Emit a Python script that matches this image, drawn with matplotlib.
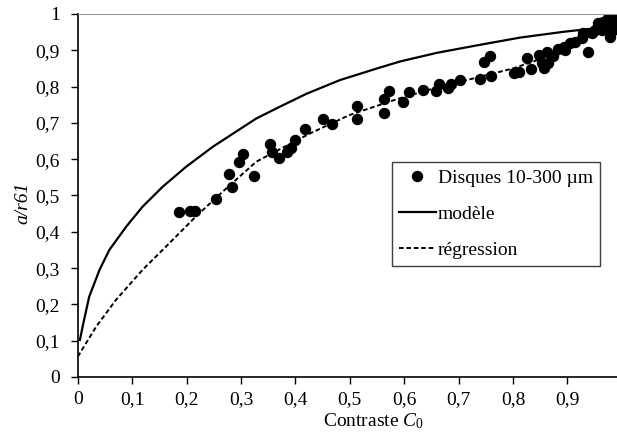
import matplotlib
matplotlib.use("Agg")
import matplotlib.pyplot as plt
from matplotlib.ticker import FuncFormatter

plt.rcParams["font.family"] = ["Liberation Serif", "DejaVu Serif"]
plt.rcParams["mathtext.fontset"] = "custom"
plt.rcParams["mathtext.rm"] = "Liberation Serif"
plt.rcParams["mathtext.it"] = "Liberation Serif:italic"

# Measured points (Disques 10-300 um)
disk_x = [0.186, 0.206, 0.216, 0.254, 0.278, 0.284, 0.297, 0.304, 0.324, 0.353,
          0.357, 0.369, 0.384, 0.392, 0.400, 0.417, 0.450, 0.468, 0.514, 0.514,
          0.562, 0.563, 0.572, 0.597, 0.608, 0.635, 0.659, 0.663, 0.680, 0.686,
          0.703, 0.739, 0.746, 0.758, 0.759, 0.801, 0.810, 0.825, 0.833, 0.847,
          0.853, 0.856, 0.862, 0.865, 0.873, 0.883, 0.893, 0.896, 0.905, 0.914,
          0.926, 0.929, 0.938, 0.945, 0.950, 0.957, 0.960, 0.963, 0.966, 0.970,
          0.972, 0.975, 0.978, 0.980, 0.981, 0.984, 0.984]
disk_y = [0.455, 0.457, 0.457, 0.491, 0.560, 0.524, 0.592, 0.614, 0.553, 0.643,
          0.621, 0.603, 0.619, 0.630, 0.653, 0.682, 0.710, 0.696, 0.747, 0.710,
          0.726, 0.766, 0.788, 0.758, 0.786, 0.791, 0.789, 0.806, 0.795, 0.807,
          0.818, 0.821, 0.869, 0.885, 0.830, 0.838, 0.841, 0.878, 0.848, 0.887,
          0.864, 0.852, 0.896, 0.864, 0.885, 0.904, 0.910, 0.901, 0.919, 0.924,
          0.933, 0.947, 0.896, 0.947, 0.955, 0.974, 0.965, 0.956, 0.979, 0.970,
          0.961, 0.988, 0.937, 0.965, 0.993, 0.956, 0.975]

# Model curve
model_x = [0.004, 0.009, 0.021, 0.040, 0.058, 0.089, 0.119, 0.156, 0.199, 0.248,
           0.291, 0.328, 0.372, 0.420, 0.482, 0.550, 0.592, 0.660, 0.739, 0.813,
           0.893, 0.948, 0.985]
model_y = [0.102, 0.139, 0.221, 0.295, 0.350, 0.414, 0.469, 0.524, 0.579, 0.634,
           0.676, 0.712, 0.745, 0.780, 0.818, 0.850, 0.869, 0.893, 0.915, 0.935,
           0.951, 0.960, 0.966]

# Regression curve
reg_x = [0.0, 0.034, 0.070, 0.119, 0.168, 0.217, 0.266, 0.328, 0.372, 0.427,
         0.500, 0.592, 0.666, 0.715, 0.800, 0.862, 0.887, 0.930, 0.985]
reg_y = [0.056, 0.139, 0.212, 0.295, 0.368, 0.442, 0.510, 0.593, 0.628, 0.671,
         0.722, 0.768, 0.800, 0.818, 0.850, 0.882, 0.905, 0.930, 0.975]

x_ticks = [0, 0.1, 0.2, 0.3, 0.4, 0.5, 0.6, 0.7, 0.8, 0.9]
y_ticks = [0, 0.1, 0.2, 0.3, 0.4, 0.5, 0.6, 0.7, 0.8, 0.9, 1]

fig = plt.figure(figsize=(6.17, 4.37), dpi=100)
ax = fig.add_axes([0.126, 0.1373, 0.874, 0.8307])

ax.plot(disk_x, disk_y, "o", color="black", markersize=7.2, label="Disques 10-300 µm")
ax.plot(model_x, model_y, "-", color="black", linewidth=1.6, label="modèle")
ax.plot(reg_x, reg_y, "--", color="black", linewidth=1.4, dashes=(2.4, 1.4), label="régression")

ax.set_xlim(0, 0.991)
ax.set_ylim(0, 1)
ax.set_xticks(x_ticks)
ax.set_yticks(y_ticks)

def comma(v, pos):
    s = "%g" % v
    return s.replace(".", ",")

ax.xaxis.set_major_formatter(FuncFormatter(comma))
ax.yaxis.set_major_formatter(FuncFormatter(comma))
ax.tick_params(direction="out", length=5, width=1, labelsize=14, colors="black")
ax.tick_params(axis="y", pad=8)
ax.tick_params(axis="x", pad=5)

ax.spines["right"].set_visible(False)
ax.spines["top"].set_color("#999999")
ax.spines["left"].set_linewidth(1.2)
ax.spines["bottom"].set_linewidth(1.2)

ax.set_xlabel(r"Contraste $\mathit{C_0}$", fontsize=14)
ax.xaxis.set_label_coords(0.549, -0.095)
ax.set_ylabel("a/r61", fontsize=14, style="italic")
ax.yaxis.set_label_coords(-0.085, 0.48)

leg = ax.legend(loc="upper left", bbox_to_anchor=(392 / 617, 0.629),
                bbox_transform=fig.transFigure, borderaxespad=0, fontsize=14,
                frameon=True, fancybox=False, framealpha=1, edgecolor="#404040",
                handlelength=1.9, handletextpad=0.1, labelspacing=0.95,
                borderpad=0.35, numpoints=1)
leg.get_frame().set_linewidth(1.0)

fig.savefig("out.png", dpi=100)
